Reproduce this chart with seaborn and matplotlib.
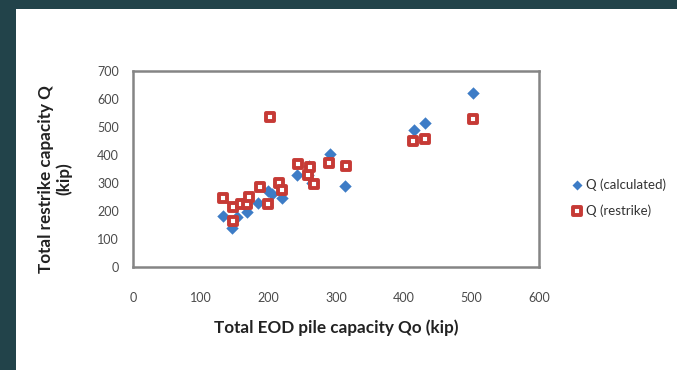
import matplotlib
matplotlib.use("Agg")
import matplotlib.pyplot as plt
from matplotlib.patches import Rectangle
import seaborn as sns
import pandas as pd

# EOD capacity (kip) and the two restrike capacity estimates (kip)
calc_qo = [133, 147, 153, 168, 185, 200, 205, 220, 243, 259, 260, 265, 291, 314, 415, 431, 502]
calc_q = [183, 140, 178, 195, 227, 270, 262, 245, 330, 330, 362, 300, 402, 290, 488, 513, 620]

restrike_qo = [133, 148, 148, 160, 169, 171, 187, 200, 202, 216, 220, 244, 259, 261, 267, 290, 315, 414, 432, 502]
restrike_q = [245, 215, 163, 225, 225, 250, 286, 226, 537, 299, 275, 368, 330, 358, 296, 370, 360, 450, 458, 530]

x_ticks = [0, 100, 200, 300, 400, 500, 600]
y_ticks = [0, 100, 200, 300, 400, 500, 600, 700]

calc_df = pd.DataFrame({"Qo": calc_qo, "Q": calc_q})
restrike_df = pd.DataFrame({"Qo": restrike_qo, "Q": restrike_q})

sns.set_style("white")
plt.rcParams["font.family"] = ["Lato", "DejaVu Sans"]

fig = plt.figure(figsize=(6.77, 3.70), dpi=100)
fig.patch.set_facecolor("#22434a")
# white page panel inside the dark border
fig.patches.append(Rectangle((16 / 677, 0), 1, 1 - 9 / 370, transform=fig.transFigure,
                             facecolor="white", edgecolor="none", zorder=-10))

ax = fig.add_axes([133 / 677, 1 - 267 / 370, 406 / 677, 196 / 370])
ax.set_zorder(1)
ax.set_facecolor("white")

sns.scatterplot(data=calc_df, x="Qo", y="Q", ax=ax, marker="D", s=40,
                color="#3d7cc6", edgecolor="#3d7cc6", linewidth=0,
                label="Q (calculated)", zorder=3)
sns.scatterplot(data=restrike_df, x="Qo", y="Q", ax=ax, marker="s", s=36,
                facecolor="white", edgecolor="#c63a35", linewidth=2.8,
                label="Q (restrike)", zorder=4)

ax.set_xlim(0, 600)
ax.set_ylim(0, 700)
ax.set_xticks(x_ticks)
ax.set_yticks(y_ticks)
ax.set_xticklabels([str(v) for v in x_ticks], fontsize=9, color="#4a4a4a")
ax.set_yticklabels([str(v) for v in y_ticks], fontsize=9, color="#4a4a4a")
ax.tick_params(axis="both", direction="out", length=4, width=0.8, color="#999999")
ax.tick_params(axis="y", pad=6)
ax.tick_params(axis="x", pad=14)
for side in ax.spines.values():
    side.set_color("#858585")
    side.set_linewidth(1.8)

ax.set_xlabel("Total EOD pile capacity Qo (kip)", fontsize=12.3, fontweight="bold",
              color="#222222", labelpad=11)
ax.set_ylabel("Total restrike capacity Q\n(kip)", fontsize=12.3, fontweight="bold",
              color="#222222", labelpad=18, linespacing=1.1)
ax.yaxis.label.set_y(0.45)

leg = ax.legend(loc="center left", bbox_to_anchor=(1.085, 0.355), frameon=False,
                fontsize=9.5, handlelength=0.6, handletextpad=0.35, labelspacing=1.0,
                borderaxespad=0, borderpad=0)
for h in leg.legend_handles:
    h.set_sizes([26])
for t in leg.get_texts():
    t.set_color("#333333")

fig.savefig("out.png", dpi=100, facecolor=fig.get_facecolor())
